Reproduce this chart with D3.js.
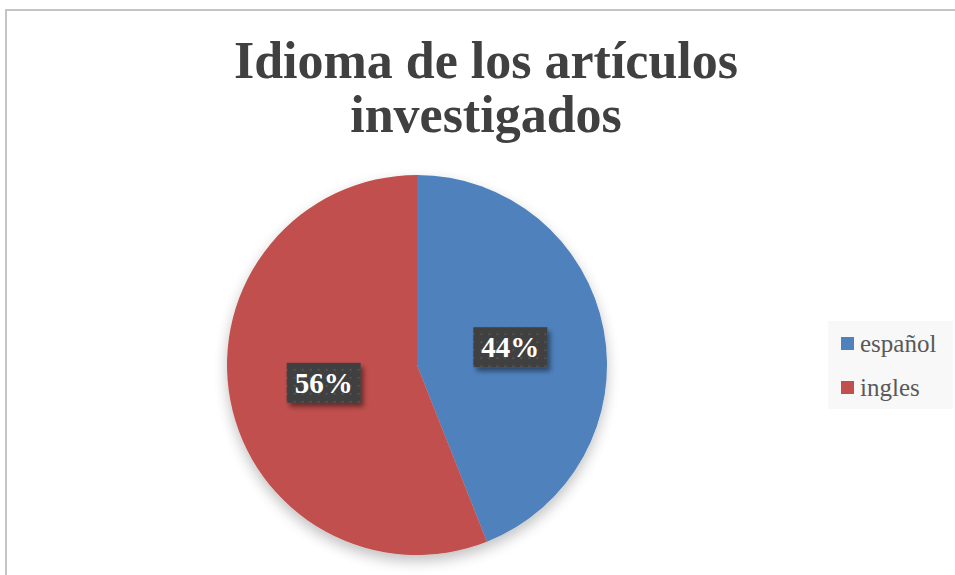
<!DOCTYPE html>
<html>
<head>
<meta charset="utf-8">
<script src="https://cdn.jsdelivr.net/npm/d3@7"></script>
<style>
	body { margin: 0; background: #ffffff; }
	svg { display: block; }
</style>
</head>
<body>
<script>

// chart data
var categories = ["español", "ingles"];
var values = [44, 56];
var colours = ["#4F81BD", "#C0504D"];
var title_lines = ["Idioma de los artículos", "investigados"];

var width = 955,
	height = 575;

var FONT = "'Liberation Serif', 'DejaVu Serif', serif";

var pie_center = {x: 417, y: 365},
	radius = 190;

var svg = d3.select("body").append("svg")
	.attr("width", width)
	.attr("height", height);

var defs = svg.append("defs");

// soft shadow under the pie
var pie_shadow = defs.append("filter")
	.attr("id", "pieShadow")
	.attr("x", "-20%").attr("y", "-20%")
	.attr("width", "140%").attr("height", "140%");
pie_shadow.append("feGaussianBlur")
	.attr("in", "SourceAlpha")
	.attr("stdDeviation", 7);
pie_shadow.append("feOffset").attr("dx", 0).attr("dy", 6).attr("result", "blur");
pie_shadow.append("feComponentTransfer")
	.append("feFuncA").attr("type", "linear").attr("slope", 0.25);
var merge = pie_shadow.append("feMerge");
merge.append("feMergeNode");
merge.append("feMergeNode").attr("in", "SourceGraphic");

// shadow for the data labels
var label_shadow = defs.append("filter")
	.attr("id", "labelShadow")
	.attr("x", "-30%").attr("y", "-30%")
	.attr("width", "160%").attr("height", "160%");
label_shadow.append("feGaussianBlur")
	.attr("in", "SourceAlpha")
	.attr("stdDeviation", 2.5);
label_shadow.append("feOffset").attr("dx", 3).attr("dy", 4);
label_shadow.append("feComponentTransfer")
	.append("feFuncA").attr("type", "linear").attr("slope", 0.45);
var merge2 = label_shadow.append("feMerge");
merge2.append("feMergeNode");
merge2.append("feMergeNode").attr("in", "SourceGraphic");

// dotted pattern for the label boxes
var pattern = defs.append("pattern")
	.attr("id", "dots")
	.attr("width", 8)
	.attr("height", 8)
	.attr("patternUnits", "userSpaceOnUse");
pattern.append("rect").attr("width", 8).attr("height", 8).attr("fill", "#3f3f3f");
pattern.append("rect").attr("x", 2).attr("y", 2).attr("width", 2).attr("height", 2).attr("fill", "#545454");

// chart border
svg.append("rect")
	.attr("x", 6)
	.attr("y", 10)
	.attr("width", width + 20)
	.attr("height", height + 20)
	.attr("fill", "#ffffff")
	.attr("stroke", "#c4c4c4")
	.attr("stroke-width", 2);

// title
svg.append("g")
	.selectAll("text")
	.data(title_lines)
	.enter().append("text")
	.attr("x", 486)
	.attr("y", function(d, i) { return 78 + i * 54; })
	.attr("text-anchor", "middle")
	.attr("font-family", FONT)
	.attr("font-weight", "bold")
	.style("font-size", "52px")
	.attr("fill", "#404040")
	.text(function(d) { return d; });

// pie
var pie = d3.pie()
	.sort(null)
	.value(function(d) { return d; });

var arc = d3.arc()
	.innerRadius(0)
	.outerRadius(radius);

var label_arc = d3.arc()
	.innerRadius(radius * 0.5)
	.outerRadius(radius * 0.5);

var arcs = pie(values);

var pie_group = svg.append("g")
	.attr("transform", "translate(" + pie_center.x + "," + pie_center.y + ")");

pie_group.append("g")
	.attr("filter", "url(#pieShadow)")
	.selectAll("path")
	.data(arcs)
	.enter().append("path")
	.attr("d", arc)
	.attr("fill", function(d, i) { return colours[i]; });

// data labels
var label = pie_group.append("g")
	.selectAll("g")
	.data(arcs)
	.enter().append("g")
	.attr("transform", function(d) {
		var c = label_arc.centroid(d);
		return "translate(" + c[0] + "," + c[1] + ")";
	});

label.append("rect")
	.attr("x", -37)
	.attr("y", -20)
	.attr("width", 74)
	.attr("height", 40)
	.attr("fill", "url(#dots)")
	.attr("filter", "url(#labelShadow)");

label.append("text")
	.attr("y", 10)
	.attr("text-anchor", "middle")
	.attr("font-family", FONT)
	.attr("font-weight", "bold")
	.style("font-size", "29px")
	.attr("fill", "#ffffff")
	.text(function(d) { return d.data + "%"; });

// legend
svg.append("rect")
	.attr("x", 828)
	.attr("y", 321)
	.attr("width", 125)
	.attr("height", 88)
	.attr("fill", "#f8f8f8");

var legend = svg.append("g")
	.selectAll("g")
	.data(categories)
	.enter().append("g")
	.attr("transform", function(d, i) {
		return "translate(841," + (337 + i * 44) + ")";
	});

legend.append("rect")
	.attr("width", 13)
	.attr("height", 13)
	.attr("fill", function(d, i) { return colours[i]; });

legend.append("text")
	.attr("x", 19)
	.attr("y", 15)
	.attr("font-family", FONT)
	.style("font-size", "25px")
	.attr("fill", "#595959")
	.text(function(d) { return d; });

</script>
</body>
</html>
